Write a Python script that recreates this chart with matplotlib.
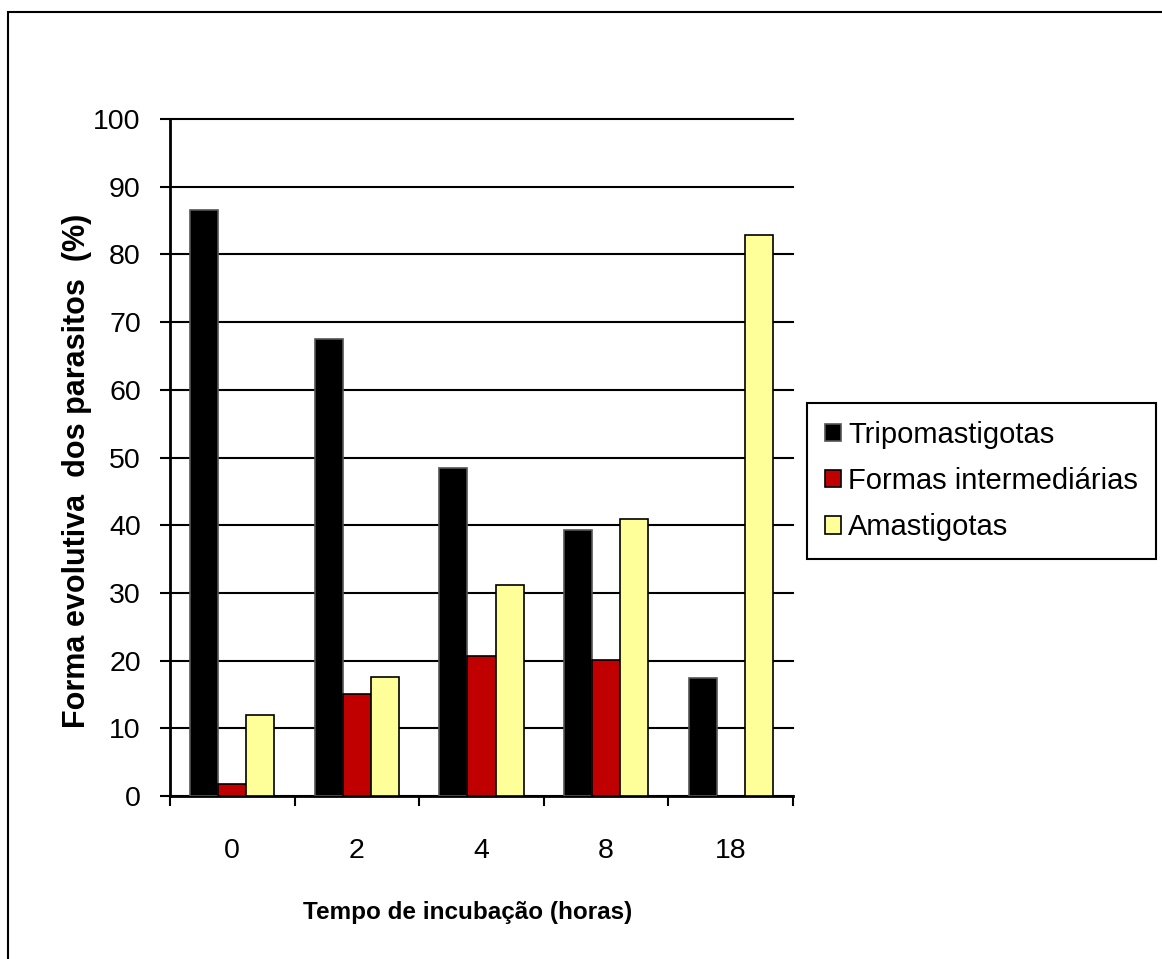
import numpy as np
import matplotlib
matplotlib.use("Agg")
import matplotlib.pyplot as plt
from matplotlib.patches import Rectangle

plt.rcParams['font.family'] = ['Liberation Sans', 'DejaVu Sans']

# incubation times (hours) and share of each parasite form (%)
horas = ['0', '2', '4', '8', '18']
tripomastigotas = [86.5, 67.5, 48.4, 39.3, 17.4]
intermediarias = [1.8, 15.1, 20.7, 20.1, 0.0]
amastigotas = [12.0, 17.6, 31.2, 40.9, 82.9]

series = [
    ('Tripomastigotas', tripomastigotas, '#000000', '#555555'),
    ('Formas intermediárias', intermediarias, '#C00000', '#000000'),
    ('Amastigotas', amastigotas, '#FFFF99', '#000000'),
]

W, H = 1162, 959
fig = plt.figure(figsize=(W / 100, H / 100), dpi=100)

# outer chart frame
fig.patches.append(Rectangle((8 / W, -0.01), 1.05, 1 - 12 / H + 0.01,
                             transform=fig.transFigure, fill=False,
                             edgecolor='black', linewidth=1.5))

ax = fig.add_axes([170 / W, 1 - 796 / H, 623 / W, (796 - 119) / H])

x = np.arange(len(horas))
width = 0.225
for i, (name, vals, color, edge) in enumerate(series):
    ax.bar(x + (i - 1) * width, vals, width, color=color, edgecolor=edge,
           linewidth=1.2, label=name, zorder=3)

ax.set_xlim(-0.5, len(horas) - 0.5)
ax.set_ylim(0, 100)
ax.set_yticks(np.arange(0, 101, 10))
ax.yaxis.grid(True, color='black', linewidth=1.5, zorder=0)
ax.set_axisbelow(True)
for line in ax.get_ygridlines():
    line.set_clip_on(False)

ax.set_xticks(x)
ax.set_xticklabels(horas)
ax.set_xticks(np.arange(-0.5, len(horas), 1), minor=True)
ax.tick_params(axis='x', which='major', length=0, pad=30, labelsize=20.5)
ax.tick_params(axis='x', which='minor', length=7, width=1.5, direction='out')
ax.tick_params(axis='y', length=7, width=1.5, direction='out', pad=14,
               labelsize=20.5)

for side in ('top', 'right'):
    ax.spines[side].set_visible(False)
for side in ('left', 'bottom'):
    ax.spines[side].set_linewidth(2)

ax.set_xlabel('Tempo de incubação (horas)', fontsize=17.5, fontweight='bold')
ax.xaxis.set_label_coords((467.5 - 170) / 623, -(912 - 796) / 677)
ax.xaxis.label.set_va('center')
ax.set_ylabel('Forma evolutiva  dos parasitos  (%)', fontsize=22,
              fontweight='bold')
ax.yaxis.set_label_coords((77 - 170) / 623, (796 - 471) / 677)
ax.yaxis.label.set_va('center')

leg = ax.legend(loc='center', bbox_to_anchor=(981.5 / W, 1 - 481 / H),
                bbox_transform=fig.transFigure, fontsize=21,
                handlelength=0.55, handleheight=0.55, handletextpad=0.25,
                labelspacing=0.62, borderpad=0.6, fancybox=False,
                framealpha=1, edgecolor='black')
leg.get_frame().set_linewidth(1.5)

fig.savefig('out.png', dpi=100)
